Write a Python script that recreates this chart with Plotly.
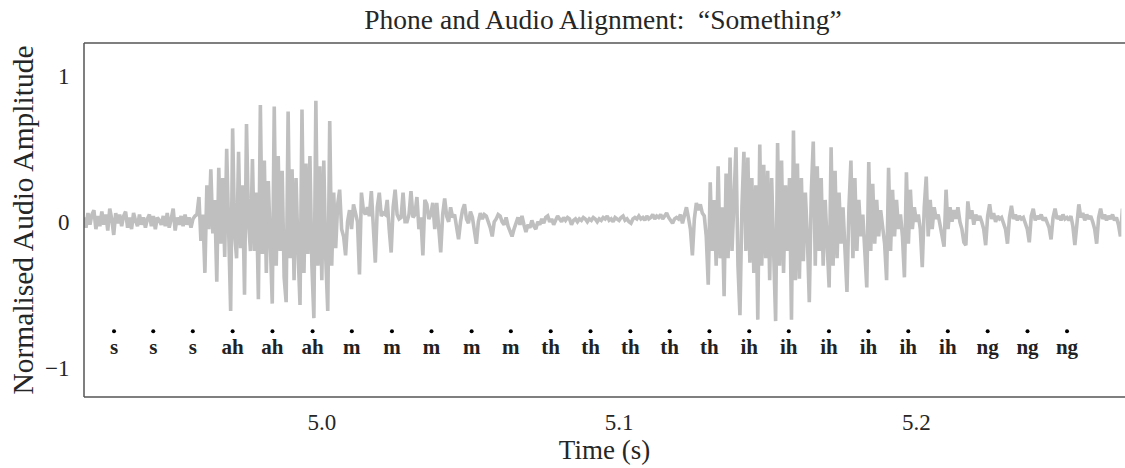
import numpy as np
import plotly.graph_objects as go

# ---- data ----
sample_rate = 1500          # samples per second of the drawn waveform
t_start = 4.920             # time of the first sample (s)

amp_s = [0.03, -0.04, 0.06, -0.02, 0.05, 0.08, -0.05, 0.04, -0.03, 0.07,
         -0.02, 0.05, -0.06, 0.09, 0.02, -0.09, 0.06, -0.01, 0.05, -0.03,
         0.04, 0.07, -0.04, 0.03, -0.05, 0.06, 0.01, -0.03, 0.05, -0.02,
         0.03, -0.04, 0.02, 0.05, -0.03, 0.04, -0.05, 0.03, 0.01, -0.02,
         0.04, -0.03, 0.06, -0.04, 0.02, 0.09, -0.06, 0.03, -0.02, 0.04,
         -0.03, 0.05, -0.02, 0.03, -0.04, 0.02, 0.04]

amp_ah = [0.05, 0.17, -0.13, 0.05, -0.35, 0.25, -0.05, 0.36, -0.08, 0.15,
          -0.41, 0.37, -0.15, 0.30, -0.24, 0.50, 0.00, -0.61, 0.64, -0.08,
          -0.25, 0.48, -0.18, 0.25, -0.50, 0.67, 0.00, -0.20, 0.43, -0.20,
          0.20, -0.53, 0.80, -0.22, 0.42, -0.35, 0.28, -0.18, -0.56, 0.79,
          -0.30, 0.45, -0.20, 0.35, -0.38, -0.55, 0.755, -0.25, 0.36, -0.40,
          0.30, -0.20, -0.57, 0.77, -0.35, 0.40, -0.22, 0.45, -0.30, -0.66,
          0.83, -0.30, 0.38, -0.40, 0.42, -0.25, -0.61, 0.69]

amp_m = [-0.30, 0.20, -0.18, 0.12, 0.22, -0.05, -0.10, -0.23, 0.00, 0.08,
         -0.05, 0.12, 0.05, 0.00, -0.36, 0.20, 0.08, 0.05, 0.10, 0.04,
         0.21, 0.00, -0.28, 0.10, 0.20, 0.04, 0.06, 0.05, 0.15, -0.05,
         -0.21, 0.10, 0.22, 0.05, 0.02, 0.03, 0.20, 0.00, 0.00, 0.05,
         0.21, 0.03, 0.05, 0.17, -0.05, 0.03, -0.23, 0.15, 0.12, 0.02,
         0.05, 0.13, -0.05, 0.13, -0.05, -0.21, 0.05, 0.16, 0.04, 0.00,
         0.10, 0.03, 0.05, -0.05, -0.12, 0.00, 0.08, 0.12, 0.02, -0.01,
         0.07, 0.03, -0.05, -0.15, 0.00, 0.06, 0.02, 0.05, 0.04, 0.00,
         -0.04, -0.10, 0.00, 0.02, 0.05, 0.04, 0.00, -0.02, 0.03, -0.03,
         -0.07, -0.10, -0.05, 0.00, 0.03, -0.02]

amp_quiet = [0.04, -0.02, -0.07, -0.02, -0.04, 0.01, -0.03, -0.05, 0.00, -0.02,
             0.02, -0.01, 0.03, 0.04, 0.00, 0.02, -0.02, 0.01, 0.04, 0.02,
             0.00, 0.03, 0.01, 0.03, 0.02, -0.02, 0.01, 0.02, 0.00, 0.02,
             0.01, 0.03, 0.02, 0.00, 0.02, 0.01, 0.03, 0.02, 0.00, 0.02,
             0.01, 0.03, 0.02, 0.04, 0.01, 0.02, 0.00, 0.03, 0.02, 0.01,
             0.03, 0.04, 0.01, 0.02, 0.00, -0.01, 0.02, 0.03, 0.02, 0.04,
             0.02, 0.03, 0.01, 0.04, 0.02, 0.03, 0.05, 0.02, 0.04, 0.03,
             0.05, 0.02, 0.04, 0.06, 0.03, 0.01, -0.01, 0.02, 0.03]

amp_ih = [0.02, 0.05, -0.01, 0.04, 0.10, 0.03, -0.05, -0.23, 0.02, 0.13,
          0.08, 0.12, 0.06, 0.04, -0.10, -0.43, 0.27, -0.20, 0.15, -0.30,
          0.38, -0.25, 0.10, -0.51, 0.33, -0.25, 0.44, -0.20, 0.20, 0.51,
          -0.30, -0.64, 0.10, 0.48, -0.20, 0.44, -0.28, 0.30, -0.35, 0.25,
          -0.67, 0.53, -0.30, 0.39, -0.25, 0.35, -0.40, 0.30, -0.20, -0.68,
          0.54, -0.30, 0.42, -0.35, 0.25, -0.20, 0.30, -0.67, 0.625, -0.40,
          0.40, -0.39, 0.30, -0.27, 0.20, -0.10, -0.55, 0.20, 0.55, -0.30,
          0.38, -0.20, 0.30, -0.30, 0.15, -0.20, -0.45, 0.51, -0.30, 0.35,
          -0.25, 0.20, -0.15, 0.10, -0.20, -0.48, 0.10, 0.42, -0.25, 0.30,
          -0.20, 0.15, -0.10, 0.05, -0.20, -0.45, 0.41, -0.20, 0.26, -0.15,
          0.15, -0.10, 0.08, -0.05, -0.15, -0.40, 0.37, -0.20, 0.22, -0.10,
          0.15, -0.05, 0.05, -0.10, -0.38, 0.34, -0.15, 0.22, -0.05, 0.10,
          0.00, 0.05, -0.05, -0.31, 0.10, 0.31, -0.10, 0.15, -0.05, 0.10,
          0.02, 0.05, -0.02, -0.10, -0.17, 0.22, -0.05, 0.10, 0.00, 0.08,
          0.02, 0.10, 0.00, -0.05, -0.14]

amp_ng = [-0.16, 0.14, 0.02, 0.08, -0.02, 0.05, 0.01, 0.04, 0.00, -0.05,
          -0.16, 0.04, 0.12, 0.02, 0.06, 0.00, 0.04, 0.02, 0.03, -0.01,
          -0.05, -0.15, 0.03, 0.11, 0.02, 0.05, 0.01, 0.04, 0.02, 0.03,
          -0.02, -0.05, -0.14, 0.04, 0.09, 0.01, 0.04, 0.02, 0.05, 0.01,
          0.03, 0.00, -0.04, -0.12, 0.03, 0.09, 0.02, 0.04, 0.01, 0.05,
          0.02, 0.03, 0.01, 0.04, -0.03, -0.16, 0.02, 0.12, 0.03, 0.06,
          0.01, 0.05, 0.02, 0.04, 0.00, -0.05, -0.15, 0.03, 0.09, 0.02,
          0.05, 0.01, 0.04, 0.02, 0.05, 0.01, 0.03, -0.02, -0.10, 0.09,
          0.03]

phone_times = [4.9301, 4.9433, 4.9566, 4.9700, 4.9834, 4.9969, 5.0101, 5.0236,
               5.0369, 5.0504, 5.0636, 5.0770, 5.0904, 5.1038, 5.1170, 5.1304,
               5.1438, 5.1571, 5.1706, 5.1839, 5.1973, 5.2106, 5.2240, 5.2374,
               5.2507]
phone_labels = ["s", "s", "s", "ah", "ah", "ah", "m", "m", "m", "m", "m",
                "th", "th", "th", "th", "th", "ih", "ih", "ih", "ih", "ih", "ih",
                "ng", "ng", "ng"]
phone_dot_y = -0.75
phone_text_y = -0.87

x_ticks = [5.0, 5.1, 5.2]
x_tick_text = ["5.0", "5.1", "5.2"]
y_ticks = [-1, 0, 1]
y_tick_text = ["\u22121", "0", "1"]

# ---- build figure ----
amplitude = np.array(amp_s + amp_ah + amp_m + amp_quiet + amp_ih + amp_ng)
times = t_start + np.arange(len(amplitude)) / sample_rate

SERIF = "Liberation Serif"
TXT = "#262626"
fig = go.Figure()
fig.add_trace(go.Scatter(x=times, y=amplitude, mode="lines",
                         line=dict(color="#bfbfbf", width=3.6), showlegend=False,
                         hoverinfo="skip"))
fig.add_trace(go.Scatter(x=phone_times, y=[phone_dot_y] * len(phone_times),
                         mode="markers", marker=dict(color="black", size=4),
                         showlegend=False))
fig.add_trace(go.Scatter(x=phone_times, y=[phone_text_y] * len(phone_times),
                         mode="text", text=[f"<b>{p}</b>" for p in phone_labels],
                         textposition="middle center",
                         textfont=dict(family=SERIF, size=21, color="#222222"),
                         showlegend=False))

frame = dict(color="#555555", width=1.5)
fig.add_shape(type="line", xref="paper", yref="paper", x0=0, x1=0, y0=0, y1=1, line=frame)
# white strip hiding any stray vertical edge at the right border of the plot area
fig.add_shape(type="rect", xref="paper", yref="paper", x0=0.9965, x1=1.01,
              y0=0.004, y1=0.996, line=dict(width=0), fillcolor="white", layer="above")
fig.add_shape(type="line", xref="paper", yref="paper", x0=0, x1=1.05, y0=1, y1=1, line=frame)
fig.add_shape(type="line", xref="paper", yref="paper", x0=0, x1=1.05, y0=0, y1=0, line=frame)

fig.update_layout(
    width=1125, height=468,
    margin=dict(l=84, r=0, t=43, b=71),
    plot_bgcolor="white", paper_bgcolor="white",
    font=dict(family=SERIF, color=TXT),
    title=dict(text="Phone and Audio Alignment:  \u201cSomething\u201d",
               font=dict(family=SERIF, size=27.5, color=TXT),
               x=0.536, xanchor="center", xref="container",
               y=0.958, yanchor="middle", yref="container"),
    xaxis=dict(range=[4.920, 5.2702], tickvals=x_ticks, ticktext=x_tick_text,
               showgrid=False, zeroline=False, showline=False,
               ticks="outside", ticklen=4, tickcolor="rgba(0,0,0,0)",
               tickfont=dict(family=SERIF, size=23, color=TXT),
               title=dict(text="Time (s)", standoff=2,
                          font=dict(family=SERIF, size=27, color=TXT))),
    yaxis=dict(range=[-1.2, 1.225], tickvals=y_ticks, ticktext=y_tick_text,
               showgrid=False, zeroline=False, showline=False,
               ticks="outside", ticklen=9, tickcolor="rgba(0,0,0,0)",
               tickfont=dict(family=SERIF, size=23, color=TXT),
               title=dict(text="Normalised Audio Amplitude", standoff=2,
                          font=dict(family=SERIF, size=29.5, color=TXT))),
)

fig.write_html("out.html", config={"displayModeBar": False})
